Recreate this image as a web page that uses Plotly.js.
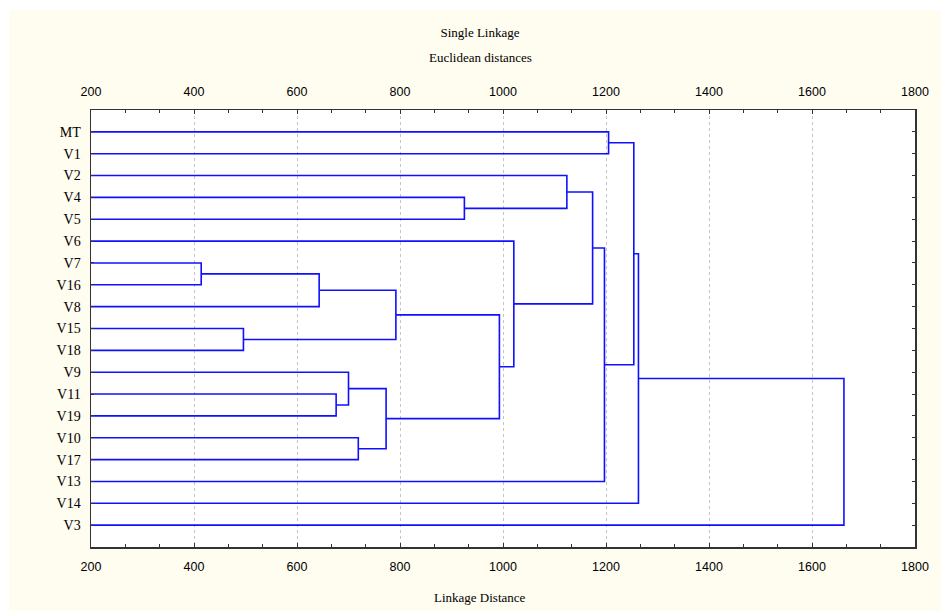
<!DOCTYPE html>
<html>
<head>
<meta charset="utf-8">
<script src="https://cdn.plot.ly/plotly-3.0.1.min.js"></script>
<style>html,body{margin:0;padding:0;background:#fff;}#chart{width:941px;height:611px;}</style>
</head>
<body>
<div id="chart"></div>
<script>
// Leaf order (top to bottom)
var leaves = ['MT','V1','V2','V4','V5','V6','V7','V16','V8','V15','V18','V9','V11','V19','V10','V17','V13','V14','V3'];
// Merges: cluster name, first child, second child, linkage distance
var clusterNames = ['C1','C2','C3','C4','C5','C6','C7','C8','C9','C10','C11','C12','C13','C14','C15','C16','C17','C18'];
var childA =       ['V7','V15','C1','V11','V9','V10','C5','C3','V4','C8','V6','V2','C12','C13','MT','C15','C16','C17'];
var childB =       ['V16','V18','V8','V19','C4','V17','C6','C2','V5','C7','C10','C9','C11','V13','V1','C14','V14','V3'];
var linkDist =     [414, 496, 643, 676, 700, 719, 773, 792, 925, 993, 1021, 1124, 1174, 1197, 1205, 1254, 1263, 1662];
var xTicks = [200,400,600,800,1000,1200,1400,1600,1800];

var xMin = xTicks[0], xMax = xTicks[xTicks.length-1];

// compute node positions
var nodeY = {}, nodeX = {};
leaves.forEach(function(l,i){ nodeY[l]=i; nodeX[l]=xMin; });
var xs=[], ys=[];
clusterNames.forEach(function(c,i){
  var a=childA[i], b=childB[i], h=linkDist[i];
  xs.push(nodeX[a], h, h, nodeX[b], null);
  ys.push(nodeY[a], nodeY[a], nodeY[b], nodeY[b], null);
  nodeY[c]=(nodeY[a]+nodeY[b])/2; nodeX[c]=h;
});

var traces = [
  {type:'scatter', mode:'lines', x:xs, y:ys, line:{color:'#1010ff', width:1.6}, hoverinfo:'skip', showlegend:false, xaxis:'x', yaxis:'y'},
  {type:'scatter', mode:'lines', x:xs, y:ys, line:{color:'rgba(0,0,0,0)', width:0}, hoverinfo:'skip', showlegend:false, xaxis:'x2', yaxis:'y'}
];

var tickFont = {family:'Liberation Sans, Arial, sans-serif', size:12.5, color:'#000'};
var serif = 'Liberation Serif, Times New Roman, serif';
var L=91, R=26, T=110, B=64, W=941, H=611;
var pw=W-L-R, ph=H-T-B;
function px2x(p){return (p-L)/pw;}
function py2y(p){return (H-B-p)/ph;}

var axCommon = {
  range:[xMin,xMax], tickvals:xTicks, ticktext:xTicks.map(String),
  ticks:'inside', ticklen:4, tickcolor:'#333', tickwidth:1,
  showgrid:true, gridcolor:'#c4c4c4', griddash:'dot', gridwidth:1,
  showline:true, linecolor:'#333', linewidth:1.5,
  zeroline:false, tickfont:tickFont, ticklabelstandoff:6,
  minor:{dtick:200/3, tick0:xMin, ticks:'inside', ticklen:3, tickcolor:'#333', showgrid:false}
};

var layout = {
  width:W, height:H,
  margin:{l:L, r:R, t:T, b:B},
  paper_bgcolor:'#fffcf0', plot_bgcolor:'#ffffff',
  title:{text:'Single Linkage', font:{family:serif, size:13, color:'#000'}, xref:'container', yref:'container', x:480/W, xanchor:'center', y:1-32/H, yanchor:'middle'},
  xaxis: Object.assign({}, axCommon, {side:'bottom', mirror:false, anchor:'y', ticklabelstandoff:7}),
  xaxis2: Object.assign({}, axCommon, {side:'top', overlaying:'x', anchor:'y', showgrid:false, ticklabelstandoff:8}),
  yaxis: {
    range:[leaves.length, -1], tickvals:leaves.map(function(l,i){return i;}), ticktext:leaves,
    ticks:'inside', ticklen:3, tickcolor:'#333', mirror:'ticks',
    showline:true, linecolor:'#333', linewidth:1.5, showgrid:false, zeroline:false,
    tickfont:{family:serif, size:14, color:'#000'}, ticklabelstandoff:6
  },
  annotations:[
    {text:'Euclidean distances', xref:'paper', yref:'paper', x:px2x(480), y:py2y(58), showarrow:false, xanchor:'center', yanchor:'middle', font:{family:serif, size:13, color:'#000'}},
    {text:'Linkage Distance', xref:'paper', yref:'paper', x:px2x(480), y:py2y(597), showarrow:false, xanchor:'center', yanchor:'middle', font:{family:serif, size:13, color:'#000'}}
  ],
  shapes:[
    {type:'rect', xref:'paper', yref:'paper', x0:px2x(-5), x1:px2x(9), y0:py2y(620), y1:py2y(-5), fillcolor:'#ffffff', line:{width:0}, layer:'above'},
    {type:'rect', xref:'paper', yref:'paper', x0:px2x(-5), x1:px2x(950), y0:py2y(10), y1:py2y(-5), fillcolor:'#ffffff', line:{width:0}, layer:'above'}
  ]
};

Plotly.newPlot('chart', traces, layout, {displayModeBar:false, staticPlot:true});
</script>
</body>
</html>
